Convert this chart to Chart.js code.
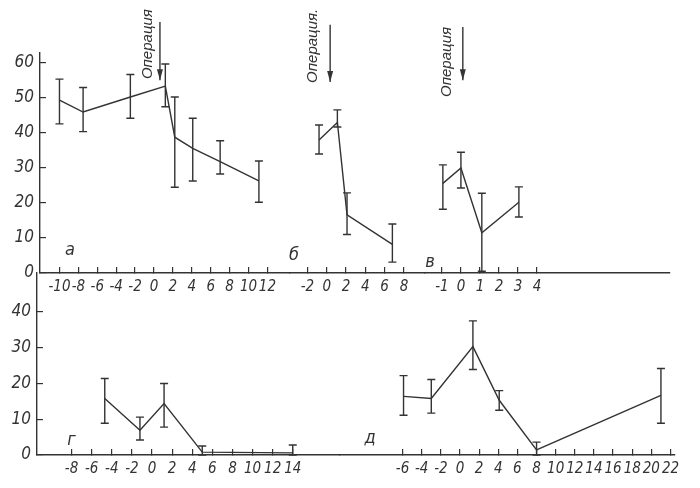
<!DOCTYPE html>
<html lang="ru">
<head>
<meta charset="utf-8">
<script src="https://cdn.jsdelivr.net/npm/chart.js@4.4.0/dist/chart.umd.min.js"></script>
<style>
html, body { margin: 0; padding: 0; background: #fff; }
#wrap { position: relative; width: 700px; height: 488px; overflow: hidden; }
#wrap canvas { position: absolute; left: 0; top: 0; }
</style>
</head>
<body>
<div id="wrap">
  <canvas id="pa" width="700" height="488"></canvas>
  <canvas id="pb" width="700" height="488"></canvas>
  <canvas id="pv" width="700" height="488"></canvas>
  <canvas id="pg" width="700" height="488"></canvas>
  <canvas id="pd" width="700" height="488"></canvas>
</div>
<script>
// панель а
const xA = [-10, -7.5, -2.5, 1.2, 2.2, 4.1, 7.0, 11.1];
const yA = [49.4, 46, 50.3, 53.4, 38.8, 35.6, 31.8, 26.3];
const loA = [42.6, 40.4, 44.2, 47.5, 24.5, 26.3, 28.3, 20.2];
const hiA = [55.4, 53, 56.7, 59.7, 50.3, 44.2, 37.8, 32];
const ticksA = [-10, -8, -6, -4, -2, 0, 2, 4, 6, 8, 10, 12];

// панель б
const xB = [-0.8, 1.1, 2.1, 6.8];
const yB = [38, 43, 16.6, 8.2];
const loB = [34, 41.7, 11, 3.1];
const hiB = [42.3, 46.6, 22.9, 14];
const ticksB = [-2, 0, 2, 4, 6, 8];

// панель в
const xV = [-0.95, 0, 1.1, 3.05];
const yV = [25.6, 30, 11.5, 20.2];
const loV = [18.2, 24.3, 0.5, 16];
const hiV = [30.9, 34.5, 22.8, 24.6];
const ticksV = [-1, 0, 1, 2, 3, 4];

// панель г
const xG = [-4.7, -1.2, 1.2, 5, 14];
const yG = [15.8, 6.9, 14.4, 0.8, 0.6];
const loG = [8.9, 4.2, 7.8, 0, 0];
const hiG = [21.4, 10.6, 20, 2.5, 2.8];
const ticksG = [-8, -6, -4, -2, 0, 2, 4, 6, 8, 10, 12, 14];

// панель д
const xD = [-5.9, -3.0, 1.35, 4.1, 8, 21];
const yD = [16.4, 15.8, 30.3, 15.3, 1.4, 16.7];
const loD = [11.1, 11.7, 23.9, 12.5, 0, 8.9];
const hiD = [22.2, 21.1, 37.5, 18, 3.6, 24.2];
const ticksD = [-6, -4, -2, 0, 2, 4, 6, 8, 10, 12, 14, 16, 18, 20, 22];

const ticksTop = [0, 10, 20, 30, 40, 50, 60];
const ticksBottom = [0, 10, 20, 30, 40];

const INK = '#333';
const FONT = '"Liberation Sans Narrow", "DejaVu Sans Condensed", sans-serif';

// усы погрешностей и подписи
const extras = {
    id: 'extras',
    afterDatasetsDraw(chart, args, opts) {
        const { ctx } = chart;
        const x = chart.scales.x, y = chart.scales.y;
        ctx.save();
        ctx.strokeStyle = INK;
        ctx.fillStyle = INK;
        ctx.lineWidth = 1.4;
        chart.data.datasets.forEach(ds => {
            ds.data.forEach((p, i) => {
                const px = x.getPixelForValue(p.x);
                const t = y.getPixelForValue(ds.errHigh[i]);
                const b = y.getPixelForValue(ds.errLow[i]);
                ctx.beginPath();
                ctx.moveTo(px, t); ctx.lineTo(px, b);
                ctx.moveTo(px - 4, t); ctx.lineTo(px + 4, t);
                ctx.moveTo(px - 4, b); ctx.lineTo(px + 4, b);
                ctx.stroke();
            });
        });
        if (opts.letter) {
            ctx.font = 'italic 18px ' + FONT;
            ctx.textAlign = 'center';
            ctx.textBaseline = 'middle';
            ctx.fillText(opts.letter.text, x.getPixelForValue(opts.letter.x), y.getPixelForValue(opts.letter.y));
        }
        if (opts.op) {
            const ax = x.getPixelForValue(opts.op.x);
            const a1 = y.getPixelForValue(opts.op.y1);
            const a2 = y.getPixelForValue(opts.op.y2);
            ctx.beginPath();
            ctx.moveTo(ax, a1); ctx.lineTo(ax, a2);
            ctx.stroke();
            ctx.beginPath();
            ctx.moveTo(ax, a2); ctx.lineTo(ax - 3, a2 - 11); ctx.lineTo(ax + 3, a2 - 11);
            ctx.closePath();
            ctx.fill();
            ctx.save();
            ctx.translate(x.getPixelForValue(opts.op.tx), y.getPixelForValue(opts.op.ty));
            ctx.rotate(-Math.PI / 2);
            ctx.font = 'italic 15px "Liberation Sans", sans-serif';
            ctx.textAlign = 'center';
            ctx.textBaseline = 'middle';
            ctx.fillText(opts.op.text, 0, 0);
            ctx.restore();
        }
        ctx.restore();
    }
};

function makePanel(id, p) {
    const points = p.xs.map((v, i) => ({ x: v, y: p.ys[i] }));
    const grid = { display: true, drawOnChartArea: false, drawTicks: true, tickLength: -6, color: INK, lineWidth: 1.2 };
    return new Chart(document.getElementById(id), {
        type: 'line',
        data: {
            datasets: [{
                data: points,
                errLow: p.lo,
                errHigh: p.hi,
                borderColor: INK,
                borderWidth: 1.4,
                pointRadius: 0,
                tension: 0,
                fill: false
            }]
        },
        options: {
            responsive: false,
            animation: false,
            events: [],
            layout: { padding: p.pad },
            plugins: {
                legend: { display: false },
                tooltip: { enabled: false },
                extras: { letter: p.letter, op: p.op }
            },
            scales: {
                x: {
                    type: 'linear',
                    min: p.xMin, max: p.xMax,
                    afterBuildTicks: s => { s.ticks = p.xTicks.map(v => ({ value: v })); },
                    afterFit: s => { s.height = 30; },
                    grid: grid,
                    border: { display: true, color: INK, width: 1.4 },
                    ticks: { color: INK, font: { family: FONT, size: 15, style: 'italic' }, padding: 11, autoSkip: false, maxRotation: 0 }
                },
                y: {
                    type: 'linear',
                    display: p.showY,
                    min: 0, max: p.yMax,
                    afterBuildTicks: s => { s.ticks = p.yTicks.map(v => ({ value: v })); },
                    afterFit: s => { s.width = p.yWidth || 0; },
                    grid: grid,
                    border: { display: true, color: INK, width: 1.4 },
                    ticks: { color: INK, font: { family: FONT, size: 17, style: 'italic' }, padding: 12 }
                }
            }
        },
        plugins: [extras]
    });
}

// верхний ряд: ноль по y на 273 px, 3.5 px на единицу
makePanel('pa', {
    xs: xA, ys: yA, lo: loA, hi: hiA, xTicks: ticksA, yTicks: ticksTop,
    xMin: -12.06, xMax: 14.39, yMax: 62.86, showY: true, yWidth: 40,
    pad: { left: 0, right: 410, top: 53, bottom: 185 },
    letter: { text: 'а', x: -8.9, y: 6.6 },
    op: { text: 'Операция', x: 0.63, y1: 71.7, y2: 55.1, tx: -0.63, ty: 65.4 }
});
makePanel('pb', {
    xs: xB, ys: yB, lo: loB, hi: hiB, xTicks: ticksB, yTicks: ticksTop,
    xMin: -3.81, xMax: 10.18, yMax: 62.86, showY: false,
    pad: { left: 290, right: 275, top: 53, bottom: 185 },
    letter: { text: 'б', x: -3.4, y: 5.1 },
    op: { text: 'Операция.', x: 0.35, y1: 70.9, y2: 54.6, tx: -1.44, ty: 64.9 }
});
makePanel('pv', {
    xs: xV, ys: yV, lo: loV, hi: hiV, xTicks: ticksV, yTicks: ticksTop,
    xMin: -1.89, xMax: 11.0, yMax: 62.86, showY: false,
    pad: { left: 425, right: 30, top: 53, bottom: 185 },
    letter: { text: 'в', x: -1.63, y: 3.1 },
    op: { text: 'Операция', x: 0.1, y1: 70.3, y2: 55.1, tx: -0.74, ty: 60.3 }
});
// нижний ряд: ноль по y на 455 px, 3.575 px на единицу
makePanel('pg', {
    xs: xG, ys: yG, lo: loG, hi: hiG, xTicks: ticksG, yTicks: ticksBottom,
    xMin: -11.44, xMax: 18.7, yMax: 50.9, showY: true, yWidth: 37,
    pad: { left: 0, right: 360, top: 273, bottom: 3 },
    letter: { text: 'г', x: -8, y: 4.2 }
});
makePanel('pd', {
    xs: xD, ys: yD, lo: loD, hi: hiD, xTicks: ticksD, yTicks: ticksBottom,
    xMin: -12.54, xMax: 22.47, yMax: 50.9, showY: false,
    pad: { left: 340, right: 25, top: 273, bottom: 3 },
    letter: { text: 'д', x: -9.4, y: 4.8 }
});
</script>
</body>
</html>
